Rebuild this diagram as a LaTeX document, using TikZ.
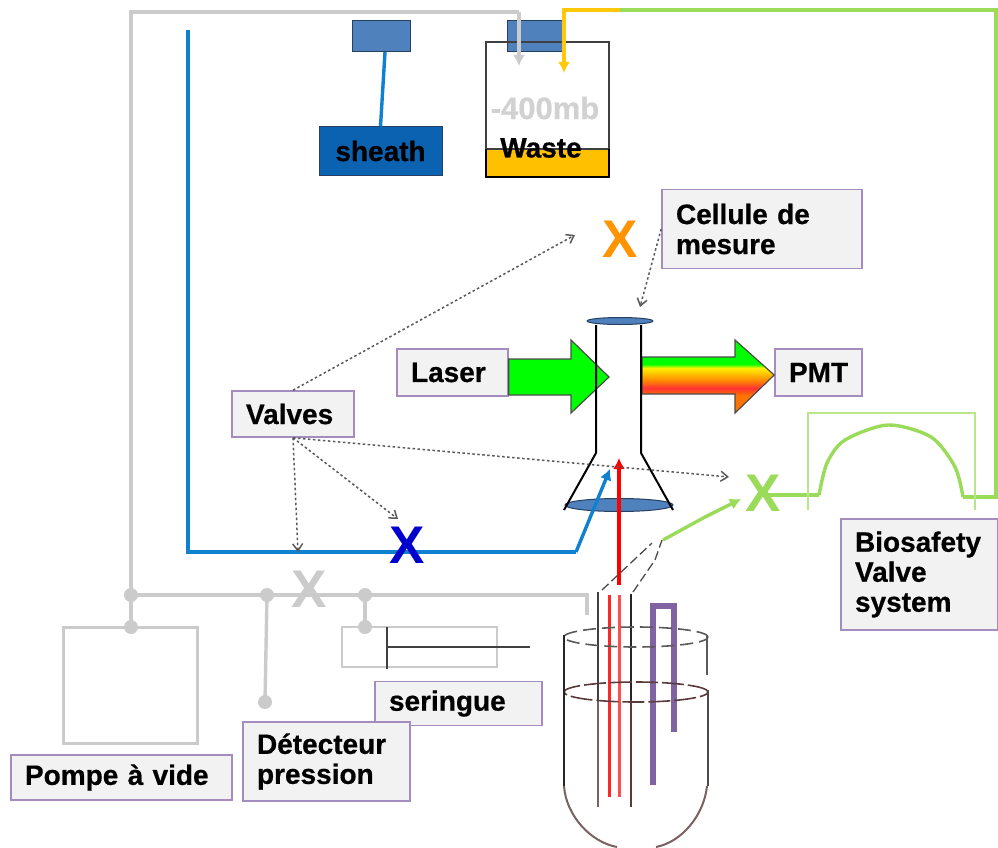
\documentclass[tikz,border=0pt]{standalone}
\usepackage{fontspec}
\setmainfont{Liberation Sans}
\newfontfamily\labelfont[FakeBold=0.6]{Liberation Sans Bold}
\usetikzlibrary{arrows.meta}
\definecolor{pipegray}{HTML}{CBCBCB}
\definecolor{pipeblue}{HTML}{1080D0}
\definecolor{pipegreen}{HTML}{9BDB5A}
\definecolor{pipeyellow}{HTML}{FFC80A}
\definecolor{wasteyellow}{HTML}{FFC000}
\definecolor{sheathblue}{HTML}{0A62B0}
\definecolor{capblue}{HTML}{4F81BD}
\definecolor{capdark}{HTML}{254061}
\definecolor{boxpurple}{HTML}{A48CBE}
\definecolor{boxgray}{HTML}{F2F2F2}
\definecolor{tubepurple}{HTML}{8064A2}
\definecolor{glassbrown}{HTML}{5A3A3A}
\pgfdeclareverticalshading{pmtshade}{100bp}{color(0bp)=(orange!90!red); color(25bp)=(orange!90!red); color(37bp)=(orange!90!red); color(42bp)=(red!80!white); color(47.6bp)=(orange!90!yellow); color(55.8bp)=(yellow!90!orange); color(58.5bp)=(green); color(100bp)=(green)}
\tikzset{
    labelbox/.style={draw=boxpurple, fill=boxgray, line width=1.6pt, align=left, inner xsep=14pt, inner ysep=0pt, font=\fontsize{28}{30}\selectfont\labelfont},
    plaintext/.style={inner sep=0pt, font=\fontsize{28}{30}\selectfont\labelfont},
    valvex/.style={inner sep=0pt, font=\fontsize{53}{53}\selectfont\bfseries},
    pipe/.style={line width=3.4pt},
    dotarrow/.style={-{Straight Barb[length=7pt,width=10pt]}, dash pattern=on 2.5pt off 2.5pt, line width=1.5pt, draw=black!65},
    colortip/.style={-{Latex[length=11pt,width=12pt]}},
    dashtube/.style={dash pattern=on 9pt off 4pt, line width=1.3pt, draw=black!70},
}
\begin{document}
\begin{tikzpicture}[x=1pt,y=-1pt]
\useasboundingbox (0,0) rectangle (998,848);

\fill[capblue] (352,21) rectangle (410,52);
\draw[capdark, line width=1pt] (352,21) rectangle (410,52);
\fill[capblue] (507,21) rectangle (563,52);
\draw[capdark, line width=1pt] (507,21) rectangle (563,52);
\fill[wasteyellow] (486,149) rectangle (609,177);
\draw[black!75, line width=2pt] (486,149) -- (486,42) -- (609,42) -- (609,149);
\draw[black!75, line width=2pt] (486,149) -- (609,149);
\draw[black, line width=2.5pt] (486,149) -- (486,177) -- (609,177) -- (609,149);
\node[plaintext, text=black!18, font=\fontsize{31}{31}\selectfont\labelfont] (vacuum) at (545,108) {-400mb};
\node[plaintext] (waste) at (541,148) {Waste};

\node[draw=capdark, fill=sheathblue, line width=1pt, minimum width=123pt, minimum height=48pt, inner sep=0pt, font=\fontsize{28}{30}\selectfont\labelfont] (sheath) at (380.5,151) {sheath};
\coordinate (sheathcap) at (385,52);
\draw[pipeblue, pipe] (sheathcap) -- (sheath.north);

\node[labelbox, text width=172pt, minimum height=79pt] (cellule) at (762,229) {Cellule de\\mesure};
\node[labelbox, text width=94pt, minimum height=46pt] (valves) at (293,414) {Valves};
\node[labelbox, text width=83pt, minimum height=47pt] (laser) at (452.5,372.5) {Laser};
\node[labelbox, text width=59pt, minimum height=47pt] (pmt) at (818.5,372.5) {PMT};
\node[labelbox, text width=129pt, minimum height=111pt] (biosafety) at (919.5,574.5) {Biosafety\\Valve\\system};
\node[labelbox, text width=139pt, minimum height=44pt] (seringue) at (458.5,703.5) {seringue};
\node[labelbox, text width=139pt, minimum height=79pt] (detecteur) at (326.5,761.5) {Détecteur\\pression};
\node[labelbox, text width=193pt, minimum height=45pt] (pompe) at (121.5,777.5) {Pompe à vide};

\coordinate (graystart) at (131,595);
\coordinate (pompetop) at (131,627);
\coordinate (detecteurtop) at (267,595);
\coordinate (detecteurend) at (265,702);
\coordinate (seringuetop) at (365,595);
\coordinate (seringuedot) at (365,627);
\draw[pipegray, pipe] (pompetop) -- (131,12) -- (519,12);
\draw[pipegray, pipe, colortip] (519,12) -- (519,66);
\draw[pipegray, pipe] (graystart) -- (587,595) -- (587,615);
\draw[pipegray, pipe] (detecteurtop) -- (detecteurend);
\draw[pipegray, pipe] (seringuetop) -- (seringuedot);
\foreach \p in {graystart,pompetop,detecteurtop,detecteurend,seringuetop,seringuedot}
    \fill[pipegray] (\p) circle (7pt);
\draw[pipegray, line width=3pt] (63,627) rectangle (197,743);
\draw[pipegray, line width=2.6pt] (342,627) rectangle (497,667);
\draw[black!75, line width=1.5pt] (387,627) -- (387,669);
\draw[black!75, line width=1.5pt] (387,647) -- (530,647);

\draw[pipeyellow, pipe, colortip] (620,10) -- (564,10) -- (564,73);
\draw[pipegreen, pipe] (620,10) -- (996,10) -- (996,497) -- (963,497);
\draw[pipegreen, pipe] plot [smooth] coordinates {(963,497) (955,467) (931,437) (888,425) (845,440) (827,463) (819,495)};
\draw[pipegreen, pipe] (819,495) -- (762,495);
\draw[pipegreen!70!white, line width=2.4pt] (808,510) -- (808,413) -- (975,413) -- (975,510);

\draw[pipeblue, pipe] (188,30) -- (188,552) -- (576,552);
\coordinate (blueend) at (610,469);

\node[valvex, text=orange!85!yellow] (valveorange) at (620,239) {X};
\node[valvex, text=blue!80!black] (valveblue) at (407,545) {X};
\node[valvex, text=pipegray] (valvegray) at (309,589) {X};
\node[valvex, text=pipegreen] (valvegreen) at (763,493) {X};

\draw[line width=1.2pt, draw=black!70, fill=green] (laser.east |- 0,359) -- (571,359) -- (571,340) -- (609,377) -- (571,413) -- (571,395) -- (laser.east |- 0,395) -- cycle;
\draw[line width=1.2pt, draw=black!70, shading=pmtshade] (642,357) -- (735,357) -- (735,340) -- (pmt.west |- 0,375) -- (735,413) -- (735,394) -- (642,394) -- cycle;

\fill[capblue] (619,505) ellipse (54pt and 6.5pt);
\draw[capdark, line width=1pt] (619,505) ellipse (54pt and 6.5pt);
\fill[capblue] (620,321) ellipse (33pt and 3.5pt);
\draw[capdark, line width=1pt] (620,321) ellipse (33pt and 3.5pt);
\draw[black, line width=2pt] (596,325) -- (596,453) -- (564,510);
\draw[black, line width=2pt] (641,325) -- (641,453) -- (673,510);

\draw[pipeblue, pipe, colortip] (576,552) -- (blueend);
\draw[red, line width=3.5pt, colortip] (619,585) -- (619,458);

\coordinate (cellulegoal) at (640,307);
\coordinate (valvesorange) at (575,235);
\coordinate (valvestube) at (729,477);
\coordinate (valvesblue) at (398,519);
\coordinate (valvesline) at (298,552);
\draw[dotarrow] (cellule.west) -- (cellulegoal);
\draw[dotarrow] (valves.north) -- (valvesorange);
\draw[dotarrow] (valves.south) -- (valvestube);
\draw[dotarrow] (valves.south) -- (valvesblue);
\draw[dotarrow] (valves.south) -- (valvesline);

\draw[pipegreen, pipe, colortip] (663,540) -- (705,517) -- (741,499);
\draw[dashtube] (602,590) -- (652,543);
\draw[dashtube] (633,592) -- (655,560) -- (662,540);

\draw[black!75, line width=1.5pt] (598,592) -- (598,700);
\draw[glassbrown!80!white, line width=1.5pt] (598,700) -- (598,807);
\draw[black!85, line width=2.5pt] (631,594) -- (631,700);
\draw[glassbrown, line width=2.5pt] (631,700) -- (631,807);
\draw[red!85!white, line width=3pt] (609.5,595) -- (609.5,797);
\draw[red!70!white, line width=3pt] (619.5,595) -- (619.5,797);
\draw[tubepurple, line width=6pt] (653,785) -- (653,606) -- (674,606) -- (674,732);

\draw[black!65, line width=1.6pt, dash pattern=on 13pt off 6pt] (636,637) ellipse (72pt and 10pt);
\draw[glassbrown, line width=1.6pt, dash pattern=on 22pt off 4pt] (636,692) ellipse (72pt and 10pt);
\draw[black!85, line width=2.5pt] (564,635) -- (564,786);
\draw[black!65, line width=1.5pt] (707,635) -- (707,675);
\draw[black!70, line width=2.5pt] (708,690) -- (708,786);
\draw[glassbrown!80!white, line width=2pt] (564,786) .. controls (566,815) and (590,842) .. (617,847);
\draw[glassbrown!80!white, line width=2pt] (707,786) .. controls (704,815) and (682,842) .. (656,847);
\end{tikzpicture}
\end{document}
